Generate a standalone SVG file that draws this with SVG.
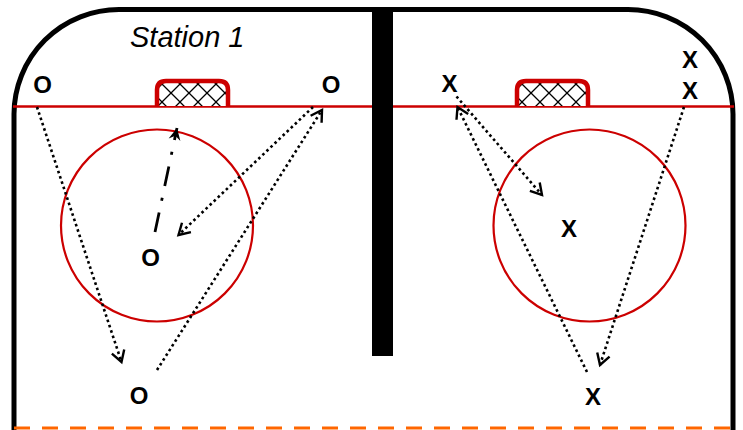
<svg xmlns="http://www.w3.org/2000/svg" width="743" height="430" viewBox="0 0 743 430">
<style>
.lbl{font-family:"Liberation Sans",Arial,sans-serif;font-weight:bold;font-size:24px;fill:#000;text-anchor:middle}
.title{font-family:"Liberation Sans",Arial,sans-serif;font-style:italic;font-size:29px;fill:#000}
.red{stroke:#cc0000;fill:none}
.net{stroke:#cc0000;stroke-width:4.5;fill:url(#hatch);stroke-linejoin:round}
.dot{stroke:#000;stroke-width:2.6;fill:none;stroke-dasharray:2.6 3}
.dd{stroke:#000;stroke-width:2.8;fill:none;stroke-dasharray:20 12 3 12}
</style>
<defs>
<pattern id="hatch" patternUnits="userSpaceOnUse" width="18" height="18" x="0" y="84">
<rect width="18" height="18" fill="#fff"/>
<path d="M0,0 L18,18 M18,0 L0,18" stroke="#000" stroke-width="1.3"/>
</pattern>
<marker id="open" markerUnits="userSpaceOnUse" markerWidth="20" markerHeight="20" viewBox="-14 -10 20 20" refX="0" refY="0" orient="auto">
<path d="M-11,-6.5 L0,0 L-11,6.5" fill="none" stroke="#000" stroke-width="2.4" stroke-dasharray="none"/>
</marker>
<marker id="solid" markerUnits="userSpaceOnUse" markerWidth="20" markerHeight="20" viewBox="-14 -10 20 20" refX="0" refY="0" orient="auto">
<path d="M-12,-6 L0,0 L-12,6 L-8,0 Z" fill="#000" stroke="none"/>
</marker>
</defs>
<rect width="743" height="430" fill="#fff"/>
<g id="rink">
<path d="M14,432 V114 A105,105 0 0 1 119,9.5 H628 A105,105 0 0 1 733,114 V432" fill="none" stroke="#000" stroke-width="5"/>
<rect x="372" y="8" width="21" height="348" fill="#000"/>
<line x1="14" y1="428" x2="733" y2="428" stroke="#ff6600" stroke-width="3" stroke-dasharray="16 12"/>
</g>
<g id="left-zone">
<line class="red" x1="13" y1="106.5" x2="372" y2="106.5" stroke-width="2.5"/>
<circle class="red" cx="157" cy="225.5" r="96" stroke-width="2.2"/>
<path class="net" d="M157,106 V90 Q157,81 166,81 H219 Q228,81 228,90 V106"/>
</g>
<g id="right-zone">
<line class="red" x1="393" y1="106.5" x2="734" y2="106.5" stroke-width="2.5"/>
<circle class="red" cx="589.5" cy="225.5" r="96" stroke-width="2.2"/>
<path class="net" d="M517,106 V90 Q517,81 526,81 H579 Q588,81 588,90 V106"/>
</g>
<g id="title"><text class="title" x="130" y="47">Station 1</text></g>
<g id="connectors">
<line class="dot" x1="37" y1="107" x2="121.5" y2="362" marker-end="url(#open)"/>
<line class="dot" x1="313" y1="107" x2="178.5" y2="235" marker-end="url(#open)"/>
<line class="dot" x1="157" y1="370" x2="322" y2="110" marker-end="url(#open)"/>
<line class="dd" x1="155" y1="232" x2="177" y2="128" marker-end="url(#solid)"/>
<line class="dot" x1="456.5" y1="96.5" x2="542" y2="195" marker-end="url(#open)"/>
<line class="dot" x1="587" y1="372" x2="457.5" y2="107" marker-end="url(#open)"/>
<line class="dot" x1="684" y1="107" x2="600" y2="365" marker-end="url(#open)"/>
</g>
<g id="players">
<g id="o1"><text class="lbl" x="42.5" y="93">O</text></g>
<g id="o2"><text class="lbl" x="331" y="93">O</text></g>
<g id="o3"><text class="lbl" x="150.5" y="266">O</text></g>
<g id="o4"><text class="lbl" x="139" y="404">O</text></g>
<g id="x1"><text class="lbl" x="449.5" y="92">X</text></g>
<g id="x2"><text class="lbl" x="690" y="68">X</text></g>
<g id="x3"><text class="lbl" x="690" y="99">X</text></g>
<g id="x4"><text class="lbl" x="569" y="237">X</text></g>
<g id="x5"><text class="lbl" x="593" y="405">X</text></g>
</g>
</svg>
